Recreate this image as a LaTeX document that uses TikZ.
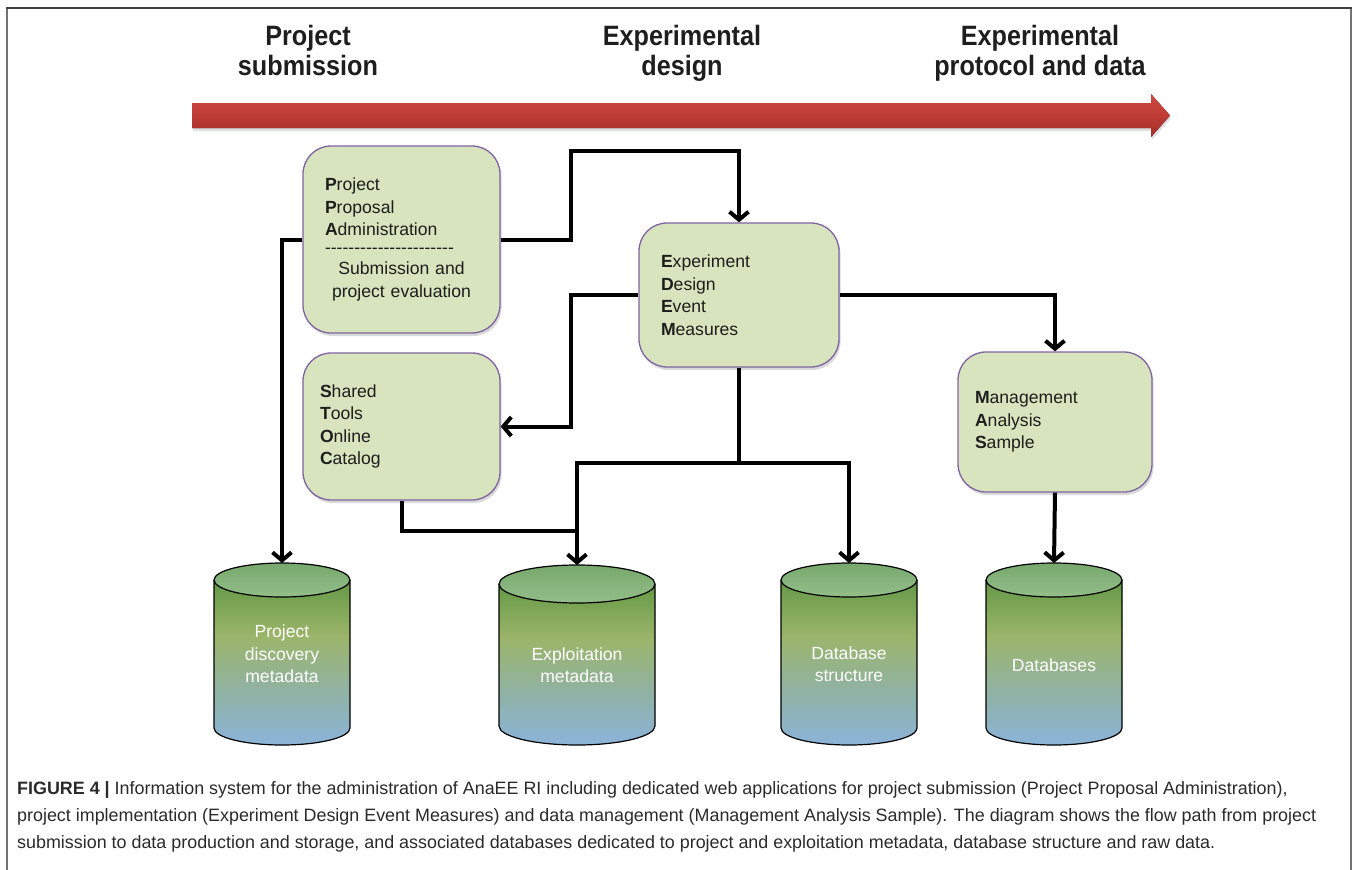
\documentclass[tikz,border=0pt]{standalone}
\usepackage{fontspec}
\setmainfont{Liberation Sans}
\newfontfamily\hdfont[FakeStretch=0.9]{Liberation Sans}
\newfontfamily\capfont{Liberation Sans}
\usetikzlibrary{arrows.meta,shadows,calc}
\definecolor{boxfill}{HTML}{D7E4BD}
\definecolor{boxline}{HTML}{8064A2}
\definecolor{redtop}{HTML}{CC4A42}
\definecolor{redmid}{HTML}{BE3C35}
\definecolor{redbot}{HTML}{A22D28}
\definecolor{cgdark}{HTML}{468A33}
\definecolor{cgolive}{HTML}{9BB56A}
\definecolor{cggray}{HTML}{8FB2A8}
\definecolor{cblue}{HTML}{8BB4E3}
\definecolor{ctopa}{HTML}{78A86E}
\definecolor{ctopb}{HTML}{93BF88}
\definecolor{txt}{HTML}{1E1E1E}
\definecolor{captxt}{HTML}{2A2A2A}
\pgfdeclareverticalshading{cylshade}{100bp}{color(0bp)=(cblue); color(22bp)=(cblue); color(40bp)=(cggray); color(58bp)=(cgolive); color(84bp)=(cgdark); color(100bp)=(cgdark)}
\newcommand\dashline{-{}-{}-{}-{}-{}-{}-{}-{}-{}-{}-{}-{}-{}-{}-{}-{}-{}-{}-{}-{}-{}-{}}
% name, cx, top, bottom, halfwidth, ry
\newcommand\dbcyl[6]{%
  \path[shading=cylshade] (#2-#5,#3+#6) rectangle (#2+#5,#4-#6) (#2,#4-#6) ellipse [x radius=#5pt, y radius=#6pt];
  \draw[cylline] (#2-#5,#3+#6) -- (#2-#5,#4-#6) arc[start angle=180, end angle=360, x radius=#5pt, y radius=#6pt] -- (#2+#5,#3+#6);
  \draw[cylline, top color=ctopa, bottom color=ctopb] (#2,#3+#6) ellipse [x radius=#5pt, y radius=#6pt];
  \node[inner sep=0pt, minimum width=2*#5pt, minimum height=#4-#3, anchor=north] (#1) at (#2,#3) {};
}
\begin{document}
\begin{tikzpicture}[x=1pt,y=-1pt,
  box/.style={draw=boxline, fill=boxfill, line width=1.3pt, rounded corners=28pt,
    align=left, inner sep=0pt, text=txt, font=\fontsize{17.6}{22.5}\selectfont,
    drop shadow={shadow xshift=1.5pt, shadow yshift=-3pt, opacity=0.3}},
  conn/.style={line width=4pt, draw=black, -{Straight Barb[length=8pt,width=19pt]}},
  plain/.style={line width=4pt, draw=black},
  cylline/.style={line width=1.2pt, draw=black},
  cyltext/.style={text=white, align=center, font=\fontsize{17.6}{22.5}\selectfont},
  head/.style={align=center, text=txt, font=\hdfont\bfseries\fontsize{28}{30}\selectfont, anchor=north, inner sep=0pt},
  captext/.style={anchor=base west, inner sep=0pt, text=captxt, font=\capfont\fontsize{17.9}{20}\selectfont}
]
\useasboundingbox (0,0) rectangle (1358,870);
% frame
\draw[line width=1.5pt, draw=black!55] (7,870) -- (7,8);
\draw[line width=1.5pt, draw=black!55] (1351,870) -- (1351,8);
\draw[line width=1.5pt, draw=black!75] (6.25,8) -- (1351.75,8);

% headers
\node[head] (h1) at (308,25) {Project\\submission};
\node[head] (h2) at (682,25) {Experimental\\design};
\node[head] (h3) at (1040,25) {Experimental\\protocol and data};

% red arrow
\fill[top color=redtop, bottom color=redbot, middle color=redmid,
  drop shadow={shadow xshift=1pt, shadow yshift=-3pt, opacity=0.25}]
  (192,103) -- (1151,103) -- (1151,94) -- (1170,115.5) -- (1151,137) -- (1151,128) -- (192,128) -- cycle;

% boxes
\node[box, minimum width=197, minimum height=187, text width=153] (ppa) at (401.5,239.5)
 {\textbf{P}roject\\ \textbf{P}roposal\\ \textbf{A}dministration\\[-5pt]
  \dashline\\[-1pt]
  \makebox[153pt][c]{Submission and}\\ \makebox[153pt][c]{project evaluation}};
\node[box, minimum width=200, minimum height=144, text width=156] (edem) at (739,295)
 {\textbf{E}xperiment\\ \textbf{D}esign\\ \textbf{E}vent\\ \textbf{M}easures};
\node[box, minimum width=197, minimum height=147, text width=163] (stoc) at (401.5,426.5)
 {\textbf{S}hared\\ \textbf{T}ools\\ \textbf{O}nline\\ \textbf{C}atalog};
\node[box, minimum width=194, minimum height=140, text width=160] (mas) at (1055,422)
 {\textbf{M}anagement\\ \textbf{A}nalysis\\ \textbf{S}ample};

% cylinders
\dbcyl{cyla}{282}{563}{745}{68}{17}
\dbcyl{cylb}{577}{565}{745}{78}{19}
\dbcyl{cylc}{849}{563}{745}{68}{17}
\dbcyl{cyld}{1054}{563}{745}{68}{17}
\node[cyltext] (ta) at (282,654) {Project\\discovery\\metadata};
\node[cyltext] (tb) at (577,665) {Exploitation\\metadata};
\node[cyltext] (tc) at (849,664) {Database\\structure};
\node[cyltext] (td) at (1054,665) {Databases};

% connectors
\coordinate (j1) at (571,151);
\coordinate (j2) at (571,426.5);
\coordinate (j3) at (739,463);
\coordinate (j4) at (577,531);
\draw[conn] (ppa.west) -| (cyla.north);
\draw[conn] (ppa.east) -| (j1) -| (edem.north);
\draw[conn] (edem.west) -| (j2) -- (stoc.east);
\draw[conn] (edem.east) -| (mas.north);
\draw[plain] (edem.south) -- (j3);
\draw[conn] (j3) -| (cylb.north);
\draw[conn] (j3) -| (cylc.north);
\draw[plain] (stoc.south) |- (j4);
\draw[conn] (mas.south) -- (cyld.north);

% caption
\node[captext] (cap1) at (17,794) {\textbf{FIGURE 4 |} Information system for the administration of AnaEE RI including dedicated web applications for project submission (Project Proposal Administration),};
\node[captext] (cap2) at (17,821) {project implementation (Experiment Design Event Measures) and data management (Management Analysis Sample). The diagram shows the flow path from project};
\node[captext] (cap3) at (17,848) {submission to data production and storage, and associated databases dedicated to project and exploitation metadata, database structure and raw data.};
\end{tikzpicture}
\end{document}
